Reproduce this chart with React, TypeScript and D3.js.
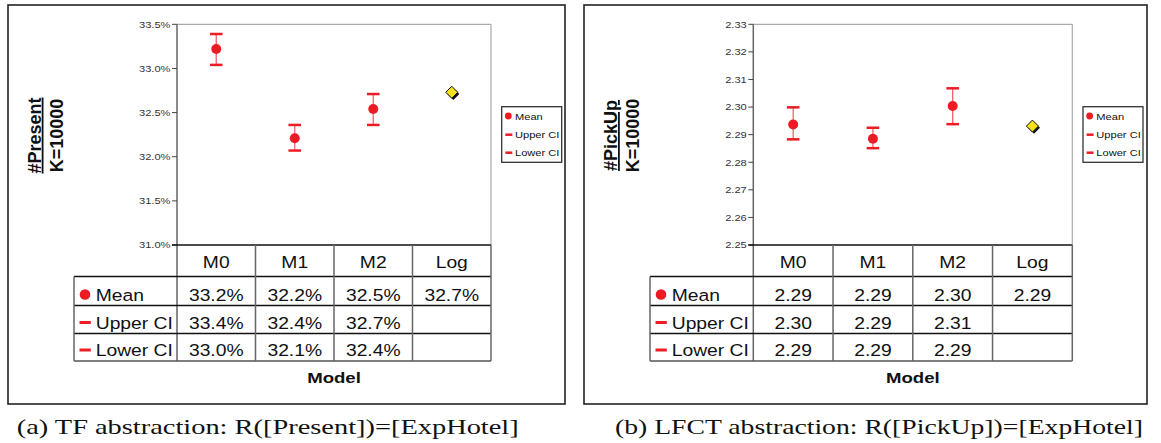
import React from 'react';
import * as d3 from 'd3';

const categories = ['M0', 'M1', 'M2', 'Log'];
const rowNames = ['Mean', 'Upper CI', 'Lower CI'];

// (a) TF abstraction
const presentMean = [33.22, 32.21, 32.54, 32.73];
const presentUpper = [33.39, 32.36, 32.71, null];
const presentLower = [33.04, 32.07, 32.36, null];
const presentTicks = [31.0, 31.5, 32.0, 32.5, 33.0, 33.5];

// (b) LFCT abstraction
const pickupMean = [2.2937, 2.2885, 2.3004, 2.2931];
const pickupUpper = [2.2999, 2.2925, 2.3068, null];
const pickupLower = [2.2883, 2.2851, 2.2938, null];
const pickupTicks = [2.25, 2.26, 2.27, 2.28, 2.29, 2.3, 2.31, 2.32, 2.33];

const RED = '#ed1c24';
const SX = 1.17;
const SANS = '"Liberation Sans", Arial, sans-serif';

const PLOT_TOP = 24.3;
const rows = [245, 276.5, 305.5, 333.5, 361];

const SText = ({ x, y, sx = SX, anchor = 'start', size, weight = 'normal', fill = '#111', children }) => (
  <text
    transform={`translate(${x},${y}) scale(${sx},1)`}
    textAnchor={anchor}
    fontFamily={SANS}
    fontSize={size}
    fontWeight={weight}
    fill={fill}
  >
    {children}
  </text>
);

const Panel = ({ frame, plotLeft, plotRight, tableLeft, titleX, title, mean, upper, lower, ticks, fmtTick, fmtVal, caption, captionX, captionW }) => {
  const y = d3.scaleLinear().domain([ticks[0], ticks[ticks.length - 1]]).range([rows[0], PLOT_TOP]);
  const x = d3.scaleBand().domain(categories).range([plotLeft, plotRight]);
  const bw = x.bandwidth();
  const cx = (c) => x(c) + bw / 2;
  const series = [mean, upper, lower];
  const legX = plotRight + 10.7;

  return (
    <g>
      <rect x={frame.x} y={frame.y} width={frame.w} height={frame.h} fill="none" stroke="#222" strokeWidth={1.6} />

      {/* plot border */}
      <line x1={plotLeft} x2={plotRight} y1={PLOT_TOP} y2={PLOT_TOP} stroke="#aaa" strokeWidth={1.2} />
      <line x1={plotRight} x2={plotRight} y1={PLOT_TOP} y2={rows[0]} stroke="#aaa" strokeWidth={1.2} />

      {/* y axis */}
      <line x1={plotLeft} x2={plotLeft} y1={PLOT_TOP} y2={rows[4]} stroke="#666" strokeWidth={1.5} />
      {ticks.map((t) => (
        <g key={t}>
          <line x1={plotLeft - 5} x2={plotLeft} y1={y(t)} y2={y(t)} stroke="#444" strokeWidth={1} />
          <SText x={plotLeft - 6.5} y={y(t) + 3.3} anchor="end" size={9.5} fill="#333">{fmtTick(t)}</SText>
        </g>
      ))}

      {/* y title */}
      <g transform={`translate(${titleX},135.5) rotate(-90)`}>
        <text textAnchor="middle" fontFamily={SANS} fontSize={18} fontWeight="bold" fill="#111" style={{ textDecoration: 'underline' }}>{title}</text>
        <text y={22.3} textAnchor="middle" fontFamily={SANS} fontSize={18} fontWeight="bold" fill="#111">K=10000</text>
      </g>

      {/* error bars and markers */}
      {categories.map((c, i) => {
        const px = cx(c);
        if (c === 'Log') {
          const py = y(mean[i]);
          const d = `M${px},${py - 6} L${px + 6},${py} L${px},${py + 6} L${px - 6},${py} Z`;
          return (
            <g key={c}>
              <path d={d} transform="translate(1.6,1.6)" fill="#111" />
              <path d={d} fill="#f4e01c" stroke="#111" strokeWidth={1} />
            </g>
          );
        }
        return (
          <g key={c}>
            <line x1={px} x2={px} y1={y(upper[i])} y2={y(lower[i])} stroke="#f2646b" strokeWidth={1.3} />
            <line x1={px - 6.3} x2={px + 6.3} y1={y(upper[i])} y2={y(upper[i])} stroke={RED} strokeWidth={2.5} />
            <line x1={px - 6.3} x2={px + 6.3} y1={y(lower[i])} y2={y(lower[i])} stroke={RED} strokeWidth={2.5} />
            <circle cx={px} cy={y(mean[i])} r={5} fill={RED} />
          </g>
        );
      })}

      {/* legend */}
      <rect x={legX} y={106.7} width={60} height={55.6} fill="#fff" stroke="#333" strokeWidth={1.3} />
      <circle cx={legX + 6.6} cy={116} r={3.4} fill={RED} />
      <line x1={legX + 3.6} x2={legX + 10.6} y1={134.7} y2={134.7} stroke={RED} strokeWidth={2.5} />
      <line x1={legX + 3.6} x2={legX + 10.6} y1={152.7} y2={152.7} stroke={RED} strokeWidth={2.5} />
      {rowNames.map((r, k) => (
        <SText key={r} x={legX + 13.3} y={119.5 + k * 18} size={9.5}>{r}</SText>
      ))}

      {/* data table */}
      <line x1={plotLeft - 5} x2={plotRight} y1={rows[0]} y2={rows[0]} stroke="#111" strokeWidth={1.3} />
      {[1, 2, 3].map((k) => (
        <line key={k} x1={tableLeft} x2={plotRight} y1={rows[k]} y2={rows[k]} stroke="#111" strokeWidth={1.3} />
      ))}
      <line x1={tableLeft} x2={plotRight} y1={rows[4]} y2={rows[4]} stroke="#555" strokeWidth={1.5} />
      <line x1={tableLeft} x2={tableLeft} y1={rows[1]} y2={rows[4]} stroke="#666" strokeWidth={1.5} />
      {categories.map((c) => (
        <line key={c} x1={x(c) + bw} x2={x(c) + bw} y1={rows[0]} y2={rows[4]} stroke="#666" strokeWidth={1.5} />
      ))}
      {categories.map((c) => (
        <SText key={c} x={cx(c)} y={rows[1] - 9} anchor="middle" size={16.5}>{c}</SText>
      ))}
      {rowNames.map((r, k) => (
        <g key={r}>
          {k === 0 ? (
            <circle cx={tableLeft + 11} cy={rows[k + 2] - 11} r={5.3} fill={RED} />
          ) : (
            <line x1={tableLeft + 5.5} x2={tableLeft + 16.8} y1={rows[k + 2] - 11} y2={rows[k + 2] - 11} stroke={RED} strokeWidth={3} />
          )}
          <SText x={tableLeft + 21.7} y={rows[k + 2] - 5} size={16.5}>{r}</SText>
          {categories.map((c, i) =>
            series[k][i] == null ? null : (
              <SText key={c} x={cx(c)} y={rows[k + 2] - 5} anchor="middle" size={16.5}>{fmtVal(series[k][i])}</SText>
            )
          )}
        </g>
      ))}
      <SText x={(plotLeft + plotRight) / 2} y={383.3} anchor="middle" size={15.5} weight="bold" sx={1.2}>Model</SText>

      {/* caption */}
      <text x={captionX} y={434} textLength={captionW} lengthAdjust="spacingAndGlyphs" fontFamily='"Liberation Serif", "Times New Roman", serif' fontSize={21} fill="#111">{caption}</text>
    </g>
  );
};

export default function App() {
  return (
    <div style={{ position: 'absolute', left: 0, top: 0, width: 1161, height: 443, background: '#fff' }}>
      <svg width={1161} height={443} style={{ display: 'block' }}>
        <rect width={1161} height={443} fill="#fff" />
        <Panel
          frame={{ x: 8, y: 5, w: 557, h: 399 }}
          plotLeft={177}
          plotRight={491}
          tableLeft={74}
          titleX={40.7}
          title="#Present"
          mean={presentMean}
          upper={presentUpper}
          lower={presentLower}
          ticks={presentTicks}
          fmtTick={(t) => t.toFixed(1) + '%'}
          fmtVal={(v) => v.toFixed(1) + '%'}
          caption="(a) TF abstraction: R([Present])=[ExpHotel]"
          captionX={16.7}
          captionW={502}
        />
        <Panel
          frame={{ x: 584, y: 5, w: 563, h: 399 }}
          plotLeft={753.3}
          plotRight={1072.3}
          tableLeft={650}
          titleX={617}
          title="#PickUp"
          mean={pickupMean}
          upper={pickupUpper}
          lower={pickupLower}
          ticks={pickupTicks}
          fmtTick={(t) => t.toFixed(2)}
          fmtVal={(v) => v.toFixed(2)}
          caption="(b) LFCT abstraction: R([PickUp])=[ExpHotel]"
          captionX={615}
          captionW={528}
        />
      </svg>
    </div>
  );
}
